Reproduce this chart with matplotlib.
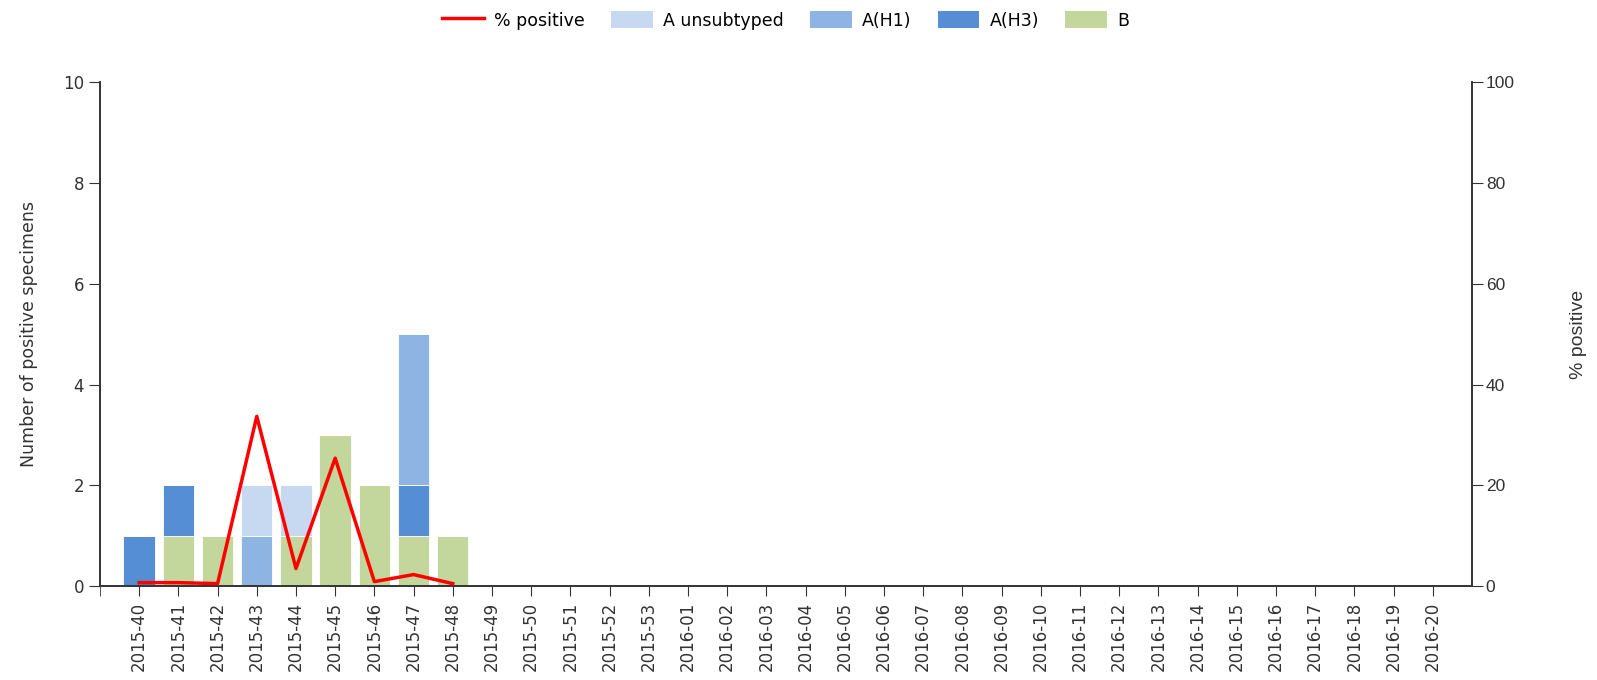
import matplotlib
matplotlib.use("Agg")
import matplotlib.pyplot as plt
from matplotlib.patches import Patch
from matplotlib.lines import Line2D

# ── data ──────────────────────────────────────────────────────────────────────
weeks = [f"2015-{w}" for w in range(40, 54)] + [f"2016-{w:02d}" for w in range(1, 21)]

b_counts     = [0, 1, 1, 0, 1, 3, 2, 1, 1] + [0] * 25
h3_counts    = [1, 1, 0, 0, 0, 0, 0, 1, 0] + [0] * 25
h1_counts    = [0, 0, 0, 1, 0, 0, 0, 3, 0] + [0] * 25
a_unsub      = [0, 0, 0, 1, 1, 0, 0, 0, 0] + [0] * 25
pct_positive = [0.7, 0.7, 0.5, 33.7, 3.5, 25.4, 0.9, 2.3, 0.5]

# ── style ─────────────────────────────────────────────────────────────────────
colors = {
    "A unsubtyped": "#c6d9f1",
    "A(H1)": "#8eb4e3",
    "A(H3)": "#558ed5",
    "B": "#c3d69b",
}
txt = "#333333"
plt.rcParams.update({"font.family": "DejaVu Sans", "font.size": 12})

fig = plt.figure(figsize=(15.97, 6.8), dpi=100)
ax = fig.add_axes([0.0626, 0.138, 0.9217 - 0.0626, 0.879 - 0.138])
ax2 = ax.twinx()

# stacked bars, bottom to top: B, A(H3), A(H1), A unsubtyped
x = list(range(len(weeks)))
bottom = [0] * len(weeks)
for name, vals in [("B", b_counts), ("A(H3)", h3_counts), ("A(H1)", h1_counts), ("A unsubtyped", a_unsub)]:
    ax.bar(x, vals, width=0.8, bottom=bottom, color=colors[name],
           edgecolor="white", linewidth=0.6, zorder=2)
    bottom = [b + v for b, v in zip(bottom, vals)]

ax2.plot(range(len(pct_positive)), pct_positive, color="#ff0000", lw=2.5, zorder=3)

ax.set_xlim(-1, len(weeks))
ax.set_ylim(0, 10)
ax2.set_ylim(0, 100)
ax.set_yticks(range(0, 11, 2))
ax2.set_yticks(range(0, 101, 20))
ax.set_xticks(x)
ax.set_xticks([-1], minor=True)
ax.set_xticklabels(weeks, rotation=90, fontsize=12, color=txt)
ax.tick_params(axis="y", labelsize=12, labelcolor=txt, length=8, color=txt)
ax.tick_params(axis="x", which="both", length=7, color=txt, pad=4)
ax2.tick_params(axis="y", labelsize=12.5, labelcolor=txt, length=8, color=txt, pad=2)
for t in ax2.get_yticklabels():
    t.set_fontfamily("Liberation Sans")

for a in (ax, ax2):
    a.spines["top"].set_visible(False)
    for s in ("left", "right", "bottom"):
        a.spines[s].set_color(txt)
        a.spines[s].set_linewidth(1.2)

ax.set_ylabel("Number of positive specimens", fontsize=12.5, color=txt, labelpad=18)
ax2.set_ylabel("% positive", fontsize=14, color=txt, labelpad=40,
               fontfamily="Liberation Sans")

handles = [Line2D([0], [0], color="#ff0000", lw=2.5, label="% positive")] + [
    Patch(facecolor=colors[n], label=n) for n in ["A unsubtyped", "A(H1)", "A(H3)", "B"]
]
fig.legend(handles=handles, loc="center", bbox_to_anchor=(0.492, 0.97), ncol=5,
           frameon=False, fontsize=12.5, handlelength=2.4, handleheight=1.1,
           columnspacing=1.5, handletextpad=0.6)

fig.savefig("out.png", dpi=100)
